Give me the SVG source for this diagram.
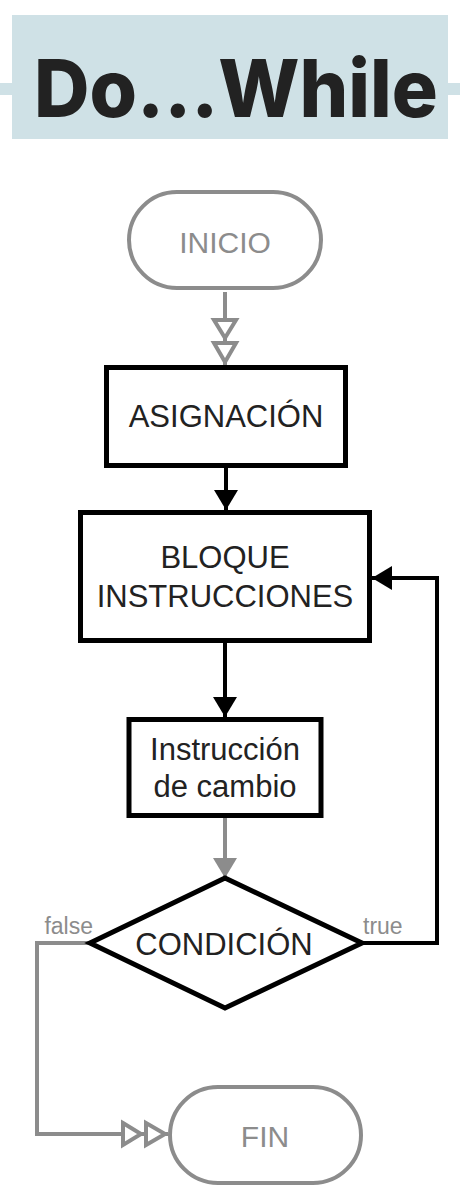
<svg xmlns="http://www.w3.org/2000/svg" width="460" height="1190" viewBox="0 0 460 1190">
<style>
.box{fill:#fff;stroke:#000;stroke-width:5}
.term{fill:#fff;stroke:#8c8c8c;stroke-width:4}
.t{font-family:"Liberation Sans",Arial,sans-serif;font-size:31px;fill:#222;text-anchor:middle}
.tg{font-family:"Liberation Sans",Arial,sans-serif;font-size:30px;fill:#8c8c8c;text-anchor:middle}
.lbl{font-family:"Liberation Sans",Arial,sans-serif;font-size:23px;fill:#8c8c8c}
.ck{fill:none;stroke:#000;stroke-width:4}
.cg{fill:none;stroke:#8c8c8c;stroke-width:4}
.ttl{font-family:Inter,"Liberation Sans",sans-serif;font-weight:800;font-size:80px;fill:#222;font-feature-settings:"calt" 0,"liga" 0}
</style>
<defs>
<marker id="ab" markerUnits="userSpaceOnUse" markerWidth="20" markerHeight="24" refX="20" refY="12" orient="auto">
<path d="M0,0 L20,12 L0,24 z" fill="#000"/>
</marker>
<marker id="ag" markerUnits="userSpaceOnUse" markerWidth="20" markerHeight="24" refX="20" refY="12" orient="auto">
<path d="M0,0 L20,12 L0,24 z" fill="#8c8c8c"/>
</marker>
<marker id="dbl" markerUnits="userSpaceOnUse" markerWidth="1" markerHeight="1" refX="0" refY="0" orient="auto" overflow="visible">
<path d="M-45,-11 L-27,0 L-45,11 z M-22,-11 L-3,0 L-22,11 z" fill="#fff" stroke="#8c8c8c" stroke-width="4" stroke-linejoin="miter"/>
</marker>
</defs>

<g id="title">
<rect x="0" y="83" width="460" height="12" fill="#cfe1e6"/>
<rect x="12" y="15" width="436" height="124" fill="#cfe1e6"/>
<text class="ttl" x="34" y="117" textLength="404" lengthAdjust="spacingAndGlyphs">Do...While</text>
</g>

<g id="connectors">
<path class="cg" d="M225,292 V365" marker-end="url(#dbl)"/>
<path class="ck" d="M226,468 V510" marker-end="url(#ab)"/>
<path class="ck" d="M225,643 V717" marker-end="url(#ab)"/>
<path class="cg" d="M225,817 V878" marker-end="url(#ag)"/>
<path class="ck" d="M362,943 H437 V578 H372" marker-end="url(#ab)"/>
<path class="cg" d="M90,943 H37 V1134 H168" marker-end="url(#dbl)"/>
<text class="lbl" x="93" y="934" text-anchor="end">false</text>
<text class="lbl" x="363" y="934">true</text>
</g>

<g id="inicio">
<rect class="term" x="129" y="192" width="192" height="96" rx="48"/>
<text class="tg" x="225" y="253">INICIO</text>
</g>

<g id="asignacion">
<rect class="box" x="106.5" y="367.5" width="239" height="98"/>
<text class="t" x="226" y="427">ASIGNACIÓN</text>
</g>

<g id="bloque">
<rect class="box" x="80.5" y="512.5" width="289" height="128"/>
<text class="t" x="225" y="568">BLOQUE</text>
<text class="t" x="225" y="607">INSTRUCCIONES</text>
</g>

<g id="instruccion">
<rect class="box" x="129" y="719.5" width="192" height="96"/>
<text class="t" x="225" y="760">Instrucción</text>
<text class="t" x="225" y="797">de cambio</text>
</g>

<g id="condicion">
<polygon class="box" points="225,878 362,943 225,1008 90,943"/>
<text class="t" x="224" y="955">CONDICIÓN</text>
</g>

<g id="fin">
<rect class="term" x="170" y="1087" width="191" height="96" rx="48"/>
<text class="tg" x="265" y="1147">FIN</text>
</g>
</svg>
